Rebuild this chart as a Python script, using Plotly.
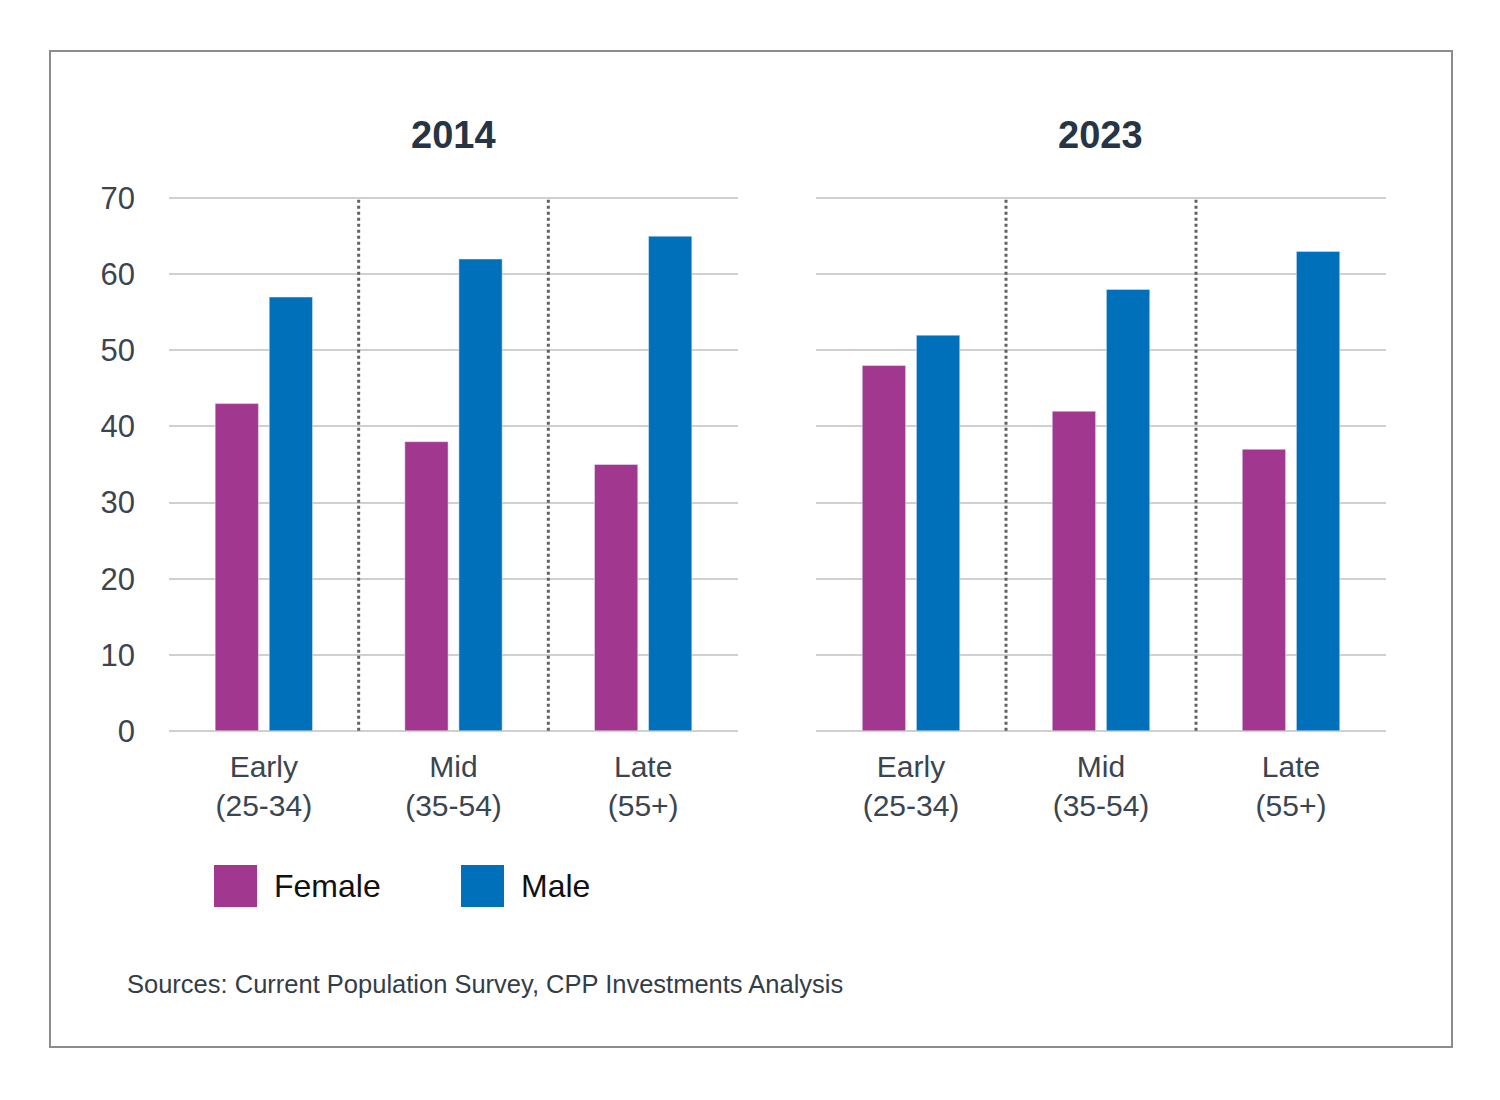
import plotly.graph_objects as go

# --- data ---
groups = ["Early<br>(25-34)", "Mid<br>(35-54)", "Late<br>(55+)"]
years = ["2014", "2023"]
female_2014 = [43, 38, 35]
male_2014 = [57, 62, 65]
female_2023 = [48, 42, 37]
male_2023 = [52, 58, 63]
series_names = ["Female", "Male"]
y_ticks = [0, 10, 20, 30, 40, 50, 60, 70]

FEMALE = "#a2378f"
MALE = "#0070bb"
TXT = "#3b4550"
W, H = 1500, 1100
OFF = 8  # page body margin in the browser


def px_x(v):
    return (v - OFF) / W


def px_y(v):
    return 1 - (v - OFF) / H


fig = go.Figure()

fig.add_trace(go.Bar(x=groups, y=female_2014, name=series_names[0], marker_color=FEMALE,
                     xaxis="x", yaxis="y", showlegend=False))
fig.add_trace(go.Bar(x=groups, y=male_2014, name=series_names[1], marker_color=MALE,
                     xaxis="x", yaxis="y", showlegend=False))
fig.add_trace(go.Bar(x=groups, y=female_2023, name=series_names[0], marker_color=FEMALE,
                     xaxis="x2", yaxis="y2", showlegend=False))
fig.add_trace(go.Bar(x=groups, y=male_2023, name=series_names[1], marker_color=MALE,
                     xaxis="x2", yaxis="y2", showlegend=False))

xax = dict(showgrid=False, zeroline=False, showline=False, ticks="", automargin=False,
           tickfont=dict(size=30, color=TXT), ticklabelstandoff=14, fixedrange=True)
yax = dict(range=[-0.15, 70.15], tickvals=y_ticks, showgrid=True, gridcolor="#d0d0d0", gridwidth=2,
           zeroline=False, showline=False, ticks="", automargin=False, fixedrange=True)

fig.update_layout(
    width=W, height=H,
    margin=dict(l=0, r=0, t=0, b=0, pad=0),
    paper_bgcolor="white", plot_bgcolor="white",
    font=dict(family="Liberation Sans, Arial, sans-serif", color=TXT),
    barmode="group", bargap=0.43, bargroupgap=0.2,
    xaxis=dict(xax, domain=[px_x(169), px_x(738)], anchor="y"),
    xaxis2=dict(xax, domain=[px_x(816), px_x(1386)], anchor="y2"),
    yaxis=dict(yax, domain=[px_y(732), px_y(197)], anchor="x",
               tickfont=dict(size=31, color=TXT), ticklabelstandoff=33),
    yaxis2=dict(yax, domain=[px_y(732), px_y(197)], anchor="x2", showticklabels=False),
)

shapes = []
# dotted separators between age groups
for xr, yr in [("x", "y"), ("x2", "y2")]:
    for sep in [0.5, 1.5]:
        shapes.append(dict(type="line", xref=xr, yref=yr, x0=sep, x1=sep, y0=0, y1=70,
                           line=dict(color="#5f6266", width=3, dash="dot"), layer="above"))

# outer frame
shapes.append(dict(type="rect", xref="paper", yref="paper",
                   x0=px_x(50), x1=px_x(1452), y0=px_y(1047), y1=px_y(51),
                   line=dict(color="#8c8c8c", width=2), fillcolor="rgba(0,0,0,0)"))

annotations = []
# panel titles
for ax, yr in zip(["xaxis", "xaxis2"], years):
    dom = fig.layout[ax].domain
    annotations.append(dict(text=f"<b>{yr}</b>", xref="paper", yref="paper",
                            x=(dom[0] + dom[1]) / 2, y=px_y(135), showarrow=False,
                            xanchor="center", yanchor="middle",
                            font=dict(size=38, color="#263445")))

# legend swatches
for name, col, x0 in zip(series_names, [FEMALE, MALE], [214, 461]):
    shapes.append(dict(type="rect", xref="paper", yref="paper",
                       x0=px_x(x0), x1=px_x(x0 + 43), y0=px_y(907), y1=px_y(865),
                       fillcolor=col, line=dict(width=0)))
    annotations.append(dict(text=name, xref="paper", yref="paper",
                            x=px_x(x0 + 58), y=px_y(886), showarrow=False,
                            xanchor="left", yanchor="middle",
                            font=dict(size=32, color="#111111")))

annotations.append(dict(text="Sources: Current Population Survey, CPP Investments Analysis",
                        xref="paper", yref="paper", x=px_x(125), y=px_y(984),
                        showarrow=False, xanchor="left", yanchor="middle",
                        font=dict(size=25.5, color="#333d47")))

fig.update_layout(shapes=shapes, annotations=annotations)

fig.write_html("out.html")
